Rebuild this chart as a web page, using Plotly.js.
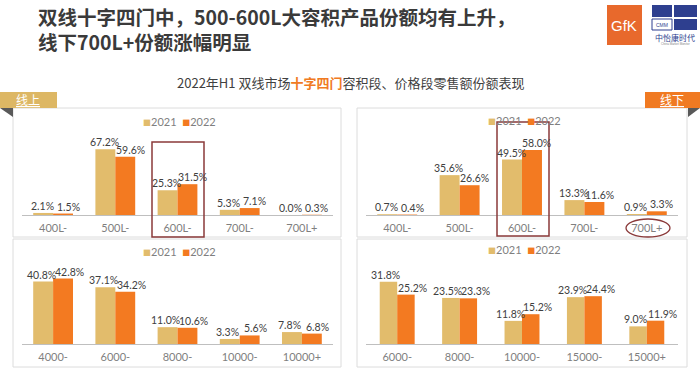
<!DOCTYPE html>
<html>
<head>
<meta charset="utf-8">
<script src="https://cdn.plot.ly/plotly-3.0.1.min.js"></script>
<style>html,body{margin:0;padding:0;background:#fff;}#chart{width:700px;height:369px;}</style>
</head>
<body>
<div id="chart"></div>
<script>
// ---- data ----
const seriesNames = ['2021', '2022'];
const volOnlineCats = ['400L-', '500L-', '600L-', '700L-', '700L+'];
const volOnline2021 = [2.1, 67.2, 25.3, 5.3, 0.0];
const volOnline2022 = [1.5, 59.6, 31.5, 7.1, 0.3];
const volOfflineCats = ['400L-', '500L-', '600L-', '700L-', '700L+'];
const volOffline2021 = [0.7, 35.6, 49.5, 13.3, 0.9];
const volOffline2022 = [0.4, 26.6, 58.0, 11.6, 3.3];
const priceOnlineCats = ['4000-', '6000-', '8000-', '10000-', '10000+'];
const priceOnline2021 = [40.8, 37.1, 11.0, 3.3, 7.8];
const priceOnline2022 = [42.8, 34.2, 10.6, 5.6, 6.8];
const priceOfflineCats = ['6000-', '8000-', '10000-', '15000-', '15000+'];
const priceOffline2021 = [31.8, 23.5, 11.8, 23.9, 9.0];
const priceOffline2022 = [25.2, 23.3, 15.2, 24.4, 11.9];

const W = 700, H = 369;
const px = v => v / W;
const py = v => 1 - v / H;
const C21 = '#E2BC6C', C22 = '#F37A21';
const FONT = 'Lato, "Noto Sans CJK SC", sans-serif';
const CJK = '"Noto Sans CJK SC", sans-serif';

const layout = {
  width: W, height: H, margin: {l: 0, r: 0, t: 0, b: 0},
  paper_bgcolor: '#fff', plot_bgcolor: 'rgba(0,0,0,0)',
  barmode: 'overlay', showlegend: false,
  font: {family: FONT},
  shapes: [],
  annotations: []
};
const A = layout.annotations;

function xax(x0, x1, anchor) {
  return {domain: [px(x0), px(x1)], anchor: anchor, type: 'category', showline: true,
    linecolor: '#BFBFBF', linewidth: 1, ticks: '', showgrid: false, zeroline: false,
    ticklabelstandoff: 3, range: [-0.5, 4.5],
    tickfont: {family: FONT, size: 11, color: '#7F7F7F'}, fixedrange: true};
}
function yax(top, base, scale, anchor) {
  return {domain: [py(base), py(top)], anchor: anchor, range: [0, (base - top) / scale],
    visible: false, fixedrange: true};
}

const data = [];
function pair(cats, a, b, n, w, sh) {
  const xa = n === 1 ? 'x' : 'x' + n, ya = n === 1 ? 'y' : 'y' + n;
  const common = {type: 'bar', x: cats, xaxis: xa, yaxis: ya, width: w,
    showlegend: false, hoverinfo: 'x+y'};
  data.push(Object.assign({}, common, {name: seriesNames[0], y: a, offset: -w, marker: {color: C21}}));
  data.push(Object.assign({}, common, {name: seriesNames[1], y: b, offset: 0, marker: {color: C22}}));
  // value labels placed with the axes' own scales
  [[a, -w / 2, -sh[0]], [b, w / 2, sh[1]]].forEach(function (s) {
    s[0].forEach(function (v, i) {
      A.push({xref: xa, yref: ya, x: i + s[1], y: v, text: v.toFixed(1) + '%', showarrow: false,
        xanchor: 'center', yanchor: 'bottom', xshift: s[2], yshift: 0, borderpad: 0,
        font: {family: FONT, size: 10.5, color: '#404040'}});
    });
  });
}
pair(volOnlineCats, volOnline2021, volOnline2022, 1, 0.32, [1, 5]);
pair(volOfflineCats, volOffline2021, volOffline2022, 2, 0.32, [1, 5]);
pair(priceOnlineCats, priceOnline2021, priceOnline2022, 3, 0.32, [2, 6]);
pair(priceOfflineCats, priceOffline2021, priceOffline2022, 4, 0.28, [3, 7]);

Object.assign(layout, {
  xaxis: xax(22, 333, 'y'), yaxis: yax(135, 215, 0.978, 'x'),
  xaxis2: xax(366, 678, 'y2'), yaxis2: yax(135, 215, 1.12, 'x2'),
  xaxis3: xax(22, 333, 'y3'), yaxis3: yax(265, 344, 1.53, 'x3'),
  xaxis4: xax(366, 678, 'y4'), yaxis4: yax(265, 344, 1.96, 'x4')
});

function rect(x0, y0, x1, y1, opts) {
  return Object.assign({type: 'rect', xref: 'paper', yref: 'paper', x0: px(x0), x1: px(x1), y0: py(y1), y1: py(y0), layer: 'below'}, opts);
}
function tri(pts, color) {
  const p = pts.map((q, i) => (i ? 'L' : 'M') + px(q[0]) + ',' + py(q[1])).join(' ') + ' Z';
  return {type: 'path', xref: 'paper', yref: 'paper', path: p, fillcolor: color, line: {width: 0}};
}
const S = layout.shapes;
// panel boxes
S.push(rect(13, 108, 341, 237, {line: {color: '#DCDCDC', width: 1}}));
S.push(rect(13, 239, 341, 367, {line: {color: '#DCDCDC', width: 1}}));
S.push(rect(357, 108, 687, 237, {line: {color: '#DCDCDC', width: 1}}));
S.push(rect(357, 239, 687, 367, {line: {color: '#DCDCDC', width: 1}}));
// tabs
S.push(rect(0, 92, 57, 108, {fillcolor: '#DDB764', line: {width: 0}}));
S.push(tri([[0, 108], [13, 108], [13, 117]], '#595959'));
S.push(rect(645, 92, 700, 108, {fillcolor: '#F07A22', line: {width: 0}}));
S.push(tri([[688, 108], [700, 108], [688, 117]], '#595959'));
// highlight marks
S.push(rect(152, 142, 204, 237, {line: {color: '#8B3A3A', width: 1.5}, layer: 'above'}));
S.push(rect(497, 122, 549, 236, {line: {color: '#8B3A3A', width: 1.5}, layer: 'above'}));
S.push({type: 'circle', xref: 'paper', yref: 'paper', x0: px(626), x1: px(670), y0: py(237), y1: py(219), line: {color: '#8B3A3A', width: 1.3}});
// logos
S.push(rect(607, 5, 642, 45, {fillcolor: '#E8692C', line: {width: 0}, layer: 'above'}));
S.push(rect(652, 5, 672, 17, {fillcolor: '#2E3F8F', line: {width: 0}, layer: 'above'}));
S.push(rect(674, 5, 697, 17, {fillcolor: '#2E3F8F', line: {width: 0}, layer: 'above'}));
S.push(rect(674, 19, 697, 30, {fillcolor: '#2E3F8F', line: {width: 0}, layer: 'above'}));
S.push(rect(652, 19, 672, 30, {fillcolor: '#FFFFFF', line: {color: '#2E3F8F', width: 1}, layer: 'above'}));

function ann(x, y, text, size, color, extra) {
  A.push(Object.assign({xref: 'paper', yref: 'paper', x: px(x), y: py(y), text: text, showarrow: false,
    xanchor: 'center', yanchor: 'middle', font: {family: FONT, size: size, color: color}}, extra || {}));
}
ann(37, 16, '<b>双线十字四门中，500-600L大容积产品份额均有上升，</b>', 19.5, '#3A3A3A', {xanchor: 'left', borderpad: 0, font: {family: CJK, size: 19.5, color: '#3A3A3A'}});
ann(37, 42, '<b>线下700L+份额涨幅明显</b>', 19.5, '#3A3A3A', {xanchor: 'left', borderpad: 0, font: {family: CJK, size: 19.5, color: '#3A3A3A'}});
ann(350, 82, '2022年H1 双线市场<span style="color:#F07A22"><b>十字四门</b></span>容积段、价格段零售额份额表现', 13, '#404040', {font: {family: CJK, size: 13, color: '#404040'}});
ann(28, 100, '<u>线上</u>', 12, '#FFFFFF', {font: {family: CJK, size: 12, color: '#FFFFFF'}});
ann(672, 100, '<u>线下</u>', 12, '#FFFFFF', {font: {family: CJK, size: 12, color: '#FFFFFF'}});
// legends
const leg = '<span style="color:' + C21 + ';font-size:8px">■</span>' + seriesNames[0] + '  <span style="color:' + C22 + ';font-size:8px">■</span>' + seriesNames[1];
ann(179, 121, leg, 11, '#7F7F7F');
ann(524, 120, leg, 11, '#7F7F7F');
ann(179, 251, leg, 11, '#7F7F7F');
ann(524, 249, leg, 11, '#7F7F7F');
// logo texts
ann(624, 26, 'GfK', 15, '#FFFFFF', {font: {family: 'Liberation Sans', size: 15, color: '#FFFFFF'}});
ann(662, 25, 'CMM', 5, '#2E3F8F', {font: {family: 'Liberation Sans', size: 5, color: '#2E3F8F'}});
ann(675, 37, '中怡康时代', 8, '#2E3F8F', {font: {family: CJK, size: 8, color: '#2E3F8F'}});
ann(675, 44, 'China Market Monitor', 3, '#888888', {font: {family: 'Liberation Sans', size: 3, color: '#888888'}});

Plotly.newPlot('chart', data, layout, {displayModeBar: false, staticPlot: true});
</script>
</body>
</html>
